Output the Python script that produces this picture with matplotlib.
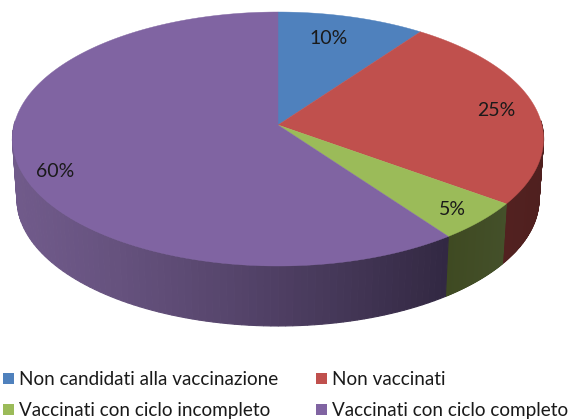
import numpy as np
import matplotlib
matplotlib.use('Agg')
import matplotlib.pyplot as plt
from matplotlib.colors import LinearSegmentedColormap
from matplotlib.patches import Polygon, Rectangle

labels = ['Non candidati alla vaccinazione', 'Non vaccinati',
          'Vaccinati con ciclo incompleto', 'Vaccinati con ciclo completo']
values = [10, 25, 5, 60]
colors = ['#4f81bd', '#c0504d', '#9bbb59', '#8064a2']
side_dark = ['#27405e', '#4d1f1e', '#3f4a22', '#322842']
side_light = ['#27405e', '#522120', '#44502a', '#705a8a']

plt.rcParams['font.family'] = ['Lato', 'DejaVu Sans']
TEXT = '#1a1a1a'
CX, CY = 278, 139
K = 14 / 127  # perspective, moves the apex above the middle of the ellipse
DEPTH = 60


def project(theta):
    """top face point for angle clockwise from 12 o'clock"""
    u, v = np.sin(theta), np.cos(theta)
    den = 1 + K * v
    return CX + 263.9 * u / den, CY - (127 * v + 14) / den


def bottom(theta):
    x, y = project(theta)
    return CX + (x - CX) * 0.983, y + DEPTH


fig = plt.figure(figsize=(5.73, 4.19), dpi=100)
ax = fig.add_axes([0, 0, 1, 1])
ax.set_xlim(0, 573)
ax.set_ylim(419, 0)
ax.axis('off')

edges = np.radians(np.concatenate([[0], np.cumsum(values)]) * 3.6)

# side wall, front half only, cut in small strips for the gradient
for i in range(len(values)):
    cmap = LinearSegmentedColormap.from_list('side', [side_light[i], side_dark[i]])
    start, stop = edges[i], edges[i + 1]
    if start >= np.radians(272) or stop <= np.radians(88):
        continue
    lo, hi = max(start, np.radians(88)), min(stop, np.radians(272))
    steps = np.linspace(lo, hi, 90)
    for a, b in zip(steps[:-1], steps[1:]):
        if i == 3:
            shade = np.clip((project(a)[0] - 12) / 440, 0, 1) ** 1.25
        elif i == 1:
            shade = 1 - (a - lo) / (hi - lo)
        else:
            shade = (a - lo) / (hi - lo)
        xa, ya = project(a)
        xb, yb = project(b)
        xc, yc = bottom(b)
        xd, yd = bottom(a)
        ax.add_patch(Polygon([(xa, ya), (xb, yb), (xc, yc), (xd, yd)], closed=True,
                             facecolor=cmap(shade), edgecolor=cmap(shade),
                             linewidth=0.8, joinstyle='bevel'))

# top face
apex = (CX, CY - 14)
for i in range(len(values)):
    t = np.linspace(edges[i], edges[i + 1], 200)
    xs, ys = project(t)
    pts = [apex] + list(zip(xs, ys))
    ax.add_patch(Polygon(pts, closed=True, facecolor=colors[i], edgecolor=colors[i], linewidth=0.3))

# percent labels
label_pos = [(329, 38), (496, 110), (452, 209), (55, 171)]
for v, (x, y) in zip(values, label_pos):
    ax.text(x, y, f'{v}%', fontsize=14, color=TEXT, ha='center', va='center')

# legend
legend_pos = [(3, 379), (316, 379), (3, 410), (316, 410)]
for lab, col, (x, y) in zip(labels, colors, legend_pos):
    ax.add_patch(Rectangle((x, y - 6), 11, 11, facecolor=col, edgecolor='none'))
    ax.text(x + 16, y, lab, fontsize=13.6, color=TEXT, ha='left', va='center')

fig.savefig('out.png', dpi=100)
